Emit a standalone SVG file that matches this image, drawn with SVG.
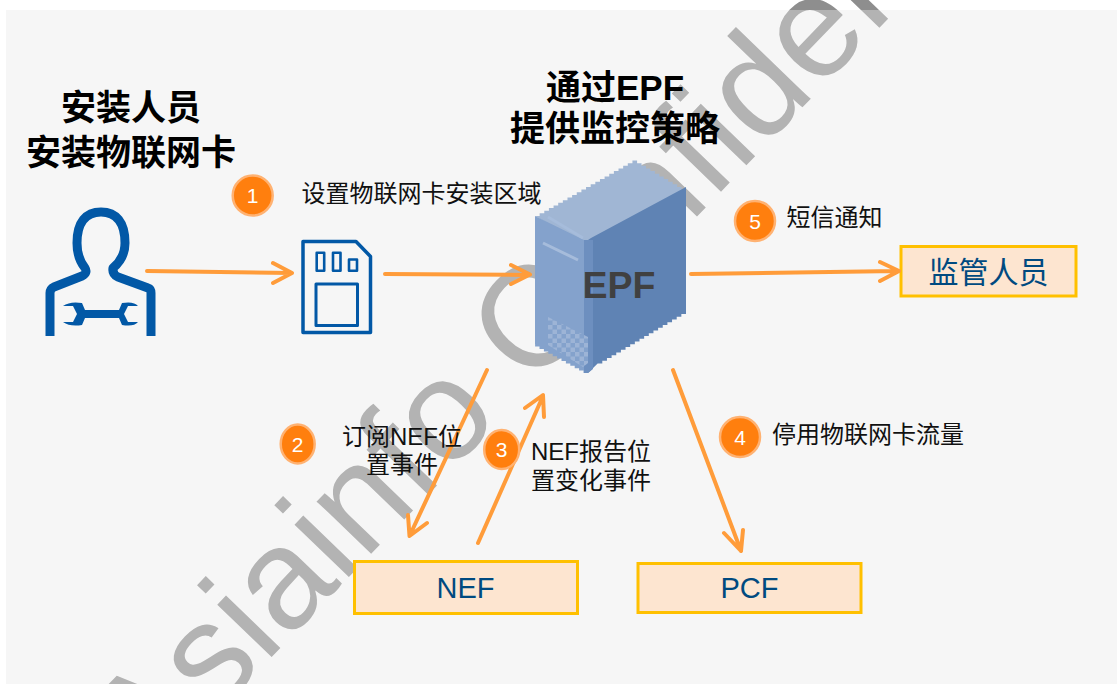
<svg xmlns="http://www.w3.org/2000/svg" width="1117" height="684" viewBox="0 0 1117 684">
<style>
.cjk{font-family:"Liberation Sans","Noto Sans CJK SC",sans-serif}
.t{font-size:24px;fill:#111;text-anchor:middle}
.h{font-size:35px;font-weight:700;fill:#000;text-anchor:middle}
.box{stroke:#ffc000;stroke-width:3;fill:#fde5d0}
.bt{font-size:29px;fill:#004a80;text-anchor:middle}
.bt2{font-size:30px;fill:#004a80;text-anchor:middle}
.badge{fill:#ff7f0e;stroke:#ffb272;stroke-width:2.5}
.num{font-size:21px;fill:#fff;text-anchor:middle}
.a{fill:none;stroke:#ff9c3a;stroke-width:4;stroke-linecap:round;stroke-linejoin:round}
.blue{fill:none;stroke:#0258a6;stroke-linejoin:round}
</style>
<defs>
<pattern id="dither" width="9" height="9" patternUnits="userSpaceOnUse" x="548" y="316"><rect width="9" height="9" fill="#84a2cc"/><rect width="4.5" height="4.5" fill="#9db4d6"/><rect x="4.5" y="4.5" width="4.5" height="4.5" fill="#9db4d6"/></pattern>
</defs>
<rect width="1117" height="684" fill="#fff"/>
<g id="watermark"><text class="cjk" transform="translate(149 784) rotate(-46)" font-size="143" fill="#8e8e8e">Asiainfo Confidential</text></g>
<rect id="panel" x="6" y="10" width="1111" height="674" fill="rgb(233,233,233)" opacity="0.407"/>
<g id="installer">
<path class="blue" stroke-width="9" d="M50,336V293Q50,289 54,287L82,276Q88,273 85,268Q77,258 77,243C77,222 86,212 101,212C116,212 125,222 125,243Q125,258 113,268Q112,274 118,277L148,288Q151,289 151,293V336"/>
<path fill="#0258a6" d="M63,306Q70,301 82,303L85,310H119L122,303Q134,301 138,306H128L124,314L128,322H138Q134,327 122,325L119,318H85L82,325Q70,327 63,322H73L77,314L73,306Z"/>
<text class="cjk h" x="131" y="120">安装人员</text>
<text class="cjk h" x="131" y="165">安装物联网卡</text>
</g>
<g id="sim">
<path class="blue" stroke-width="3.5" d="M303,241.5H356L370.5,256.5V332.5H303Z"/>
<rect class="blue" stroke-width="3" x="316" y="284" width="41.5" height="41.5"/>
<rect class="blue" stroke-width="2.6" x="316.700" y="252.700" width="7.500" height="18"/>
<rect class="blue" stroke-width="2.6" x="333" y="252.700" width="7.500" height="18"/>
<rect class="blue" stroke-width="2.6" x="349" y="259.500" width="8" height="11.200"/>
</g>
<g id="epf">
<path fill="#a0b6d4" d="M535,216 h4.640v-2.640h4.640v-2.640h4.640v-2.640h4.640v-2.640h4.640v-2.640h4.640v-2.640h4.640v-2.640h4.640v-2.640h4.640v-2.640h4.640v-2.640h4.640v-2.640h4.640v-2.640h4.640v-2.640h4.640v-2.640h4.640v-2.640h4.640v-2.640h4.640v-2.640h4.640v-2.640h4.640v-2.640h4.640v-2.640h4.640v-2.640h4.640 v2.640h4.450v2.640h4.450v2.640h4.450v2.640h4.450v2.640h4.450v2.640h4.450v2.640h4.450v2.640h4.450v2.640h4.450v2.640h4.450V192L593,244H584Z"/>
<path fill="#5f83b4" d="M591,238L686,187V314h-4.650v2.750h-4.650v2.750h-4.650v2.750h-4.650v2.750h-4.650v2.750h-4.650v2.750h-4.650v2.750h-4.650v2.750h-4.650v2.750h-4.650v2.750h-4.650v2.750h-4.650v2.750h-4.650v2.750h-4.650v2.750h-4.650v2.750h-4.650v2.750h-4.650v2.750h-4.650v2.750h-4.650L588,373V240Z"/>
<path fill="#84a2cc" d="M535,216l49,24V373h-0.500v-2.400h-4.400v-2.400h-4.400v-2.400h-4.400v-2.400h-4.400v-2.400h-4.400v-2.400h-4.400v-2.400h-4.400v-2.400h-4.400v-2.400h-4.400v-2.400h-4.400v-2.400h-4.400V344H535Z"/>
<path fill="#6d8fbf" d="M584,240h9V369l-5,4h-4Z"/>
<path d="M548,217l35,21M543,243l35,17" fill="none" stroke="#a6bcdb" stroke-width="3"/>
<path fill="url(#dither)" d="M548,317l40,20v26l-5,4l-35,-22Z"/>
<text class="cjk" x="619" y="298" font-size="37.500" font-weight="700" fill="#404040" text-anchor="middle">EPF</text>
<text class="cjk h" x="615" y="100">通过EPF</text>
<text class="cjk h" x="615" y="141">提供监控策略</text>
</g>
<g id="nef"><rect class="box" x="354.500" y="561.500" width="223" height="52"/><text class="cjk bt" x="465.500" y="598">NEF</text></g>
<g id="pcf"><rect class="box" x="638" y="563.500" width="223" height="49"/><text class="cjk bt" x="749.500" y="598">PCF</text></g>
<g id="supervisor"><rect class="box" x="901" y="246.500" width="175" height="49.500"/><text class="cjk bt2" x="988.500" y="283">监管人员</text></g>
<g id="connectors">
<path class="a" d="M147,271L291,273M273,263L292,273L273,283"/>
<path class="a" d="M385,274L528,275M511,265L530,274.500L511,284"/>
<path class="a" d="M691,274L897,271M880,262L899,271L880,281"/>
<path class="a" d="M487,370L410,535M408,515L409.500,536L427,523"/>
<path class="a" d="M478,543L543,396M525,408L543,395L544,417"/>
<path class="a" d="M673,370L741,551M724,533L741,551L743,530"/>
</g>
<g id="step1"><circle class="badge" cx="252.700" cy="195.500" r="20"/><text class="cjk num" x="252.700" y="203">1</text><text class="cjk t" x="421.500" y="202">设置物联网卡安装区域</text></g>
<g id="step2"><ellipse class="badge" cx="297.700" cy="444" rx="17" ry="19.500"/><text class="cjk num" x="297.700" y="451.500">2</text><text class="cjk t" x="402" y="445">订阅NEF位</text><text class="cjk t" x="402" y="473">置事件</text></g>
<g id="step3"><ellipse class="badge" cx="501.700" cy="449.500" rx="17.500" ry="19.500"/><text class="cjk num" x="501.700" y="457">3</text><text class="cjk t" x="591" y="460">NEF报告位</text><text class="cjk t" x="591" y="489">置变化事件</text></g>
<g id="step4"><circle class="badge" cx="740" cy="437" r="20"/><text class="cjk num" x="740" y="445">4</text><text class="cjk t" x="868" y="443">停用物联网卡流量</text></g>
<g id="step5"><circle class="badge" cx="755" cy="221" r="20"/><text class="cjk num" x="755" y="229">5</text><text class="cjk t" x="834.500" y="226">短信通知</text></g>
</svg>
